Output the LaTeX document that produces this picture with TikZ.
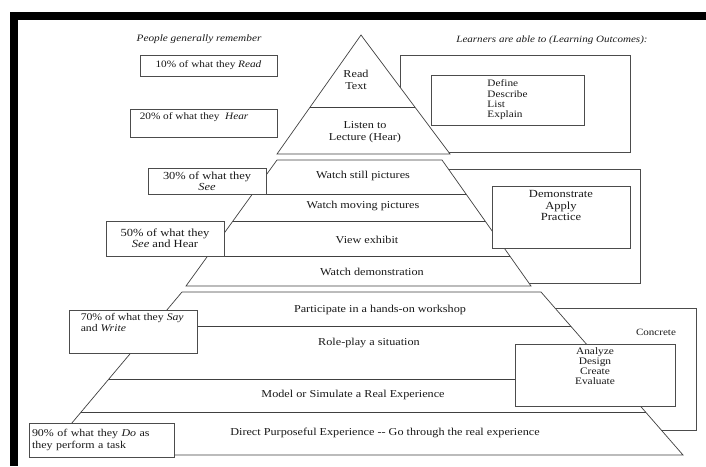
\documentclass[tikz,border=0pt]{standalone}
\usepackage{fontspec}
\setmainfont{Liberation Serif}[FakeStretch=1.15]
\usepackage{tikz}
\usetikzlibrary{positioning,calc}

\begin{document}
\begin{tikzpicture}[
    x=1pt, y=-1pt,
    every node/.style={font=\fontsize{10.6}{12}\selectfont, text=black!90},
    head/.style={font=\fontsize{9.8}{11}\selectfont\itshape},
    listtxt/.style={font=\fontsize{9.8}{10.3}\selectfont, align=left, inner sep=0pt},
    pbox/.style={draw=black!70, fill=white, line width=0.9pt, inner sep=2pt,
                 font=\fontsize{9.8}{11}\selectfont},
    outbox/.style={draw=black!70, line width=0.9pt},
    tier/.style={draw=black!75, fill=white, line width=0.7pt},
    divline/.style={draw=black!75, line width=0.7pt}
]
\useasboundingbox (0,0) rectangle (706,466);

% ── Frame ─────────────────────────────────────────────────────────────────
\fill[black] (10,12) rectangle (706,20);
\fill[black] (10,12) rectangle (18,466);

% ── Headings ──────────────────────────────────────────────────────────────
\node[head] (remember) at (199,39) {People generally remember};
\node[head, font=\fontsize{9.6}{11}\selectfont\itshape] (outcomes) at (552,40)
      {Learners are able to (Learning Outcomes):};

% ── Outer outcome frames (behind the pyramid) ────────────────────────────
\draw[outbox] (400,55) rectangle (630,152);
\draw[outbox] (440,169) rectangle (640,283);
\draw[outbox] (540,308) rectangle (696,430);
\node[font=\fontsize{9.6}{11}\selectfont] (concrete) at (656,332) {Concrete};

% ── Pyramid, top tier ─────────────────────────────────────────────────────
\coordinate (t1a) at (361,35);
\coordinate (t1l) at (277,154);
\coordinate (t1r) at (450,154);
\draw[tier] (t1a) -- (t1r) -- (t1l) -- cycle;
\draw[divline] ($(t1a)!0.605!(t1l)$) -- ($(t1a)!0.605!(t1r)$);
\node[align=center] (read) at (356,80) {Read\\Text};
\node[align=center] (lecture) at (365,132) {Listen to\\Lecture (Hear)};

% ── Pyramid, middle tier ──────────────────────────────────────────────────
\coordinate (t2tl) at (277,160);
\coordinate (t2tr) at (442,160);
\coordinate (t2bl) at (186,286);
\coordinate (t2br) at (531,286);
\draw[tier] (t2tl) -- (t2tr) -- (t2br) -- (t2bl) -- cycle;
\draw[divline] ($(t2tl)!0.270!(t2bl)$) -- ($(t2tr)!0.270!(t2br)$);
\draw[divline] ($(t2tl)!0.484!(t2bl)$) -- ($(t2tr)!0.484!(t2br)$);
\draw[divline] ($(t2tl)!0.762!(t2bl)$) -- ($(t2tr)!0.762!(t2br)$);
\node (still) at (363,176) {Watch still pictures};
\node (moving) at (363,206) {Watch moving pictures};
\node (exhibit) at (367,240) {View exhibit};
\node (demo) at (372,272) {Watch demonstration};

% ── Pyramid, bottom tier ──────────────────────────────────────────────────
\coordinate (t3tl) at (182,292);
\coordinate (t3tr) at (541,292);
\coordinate (t3bl) at (45,455);
\coordinate (t3br) at (683,455);
\draw[tier] (t3tl) -- (t3tr) -- (t3br) -- (t3bl) -- cycle;
\draw[divline] ($(t3tl)!0.209!(t3bl)$) -- ($(t3tr)!0.209!(t3br)$);
\draw[divline] ($(t3tl)!0.534!(t3bl)$) -- ($(t3tr)!0.534!(t3br)$);
\draw[divline] ($(t3tl)!0.736!(t3bl)$) -- ($(t3tr)!0.736!(t3br)$);
\node (workshop) at (380,310) {Participate in a hands-on workshop};
\node (roleplay) at (369,343) {Role-play a situation};
\node (simulate) at (353,395) {Model or Simulate a Real Experience};
\node (direct) at (385,433) {Direct Purposeful Experience -{}- Go through the real experience};

% ── Remember boxes (left) ─────────────────────────────────────────────────
\node[pbox, minimum width=137pt, minimum height=21pt] (p10) at (208.5,65.5)
      {10\% of what they \textit{Read}};
\node[pbox, minimum width=147pt, minimum height=28pt] (p20) at (203.5,123) {};
\node[anchor=north west, inner sep=0pt, font=\fontsize{9.8}{11}\selectfont] (p20txt)
      at ([xshift=10pt, yshift=-4pt]p20.north west) {20\% of what they \ \textit{Hear}};
\node[pbox, minimum width=118pt, minimum height=26pt, align=center,
      font=\fontsize{10.8}{11}\selectfont] (p30) at (207,181)
      {30\% of what they\\\textit{See}};
\node[pbox, minimum width=118pt, minimum height=35pt, align=center,
      font=\fontsize{10.9}{11}\selectfont] (p50) at (165,238.5)
      {50\% of what they\\\textit{See} and Hear};
\node[pbox, minimum width=128pt, minimum height=43pt] (p70) at (133,331.5) {};
\node[anchor=north west, inner sep=0pt, align=left, font=\fontsize{10.2}{11}\selectfont]
      (p70txt) at ([xshift=12pt, yshift=-4pt]p70.north west)
      {70\% of what they \textit{Say}\\and \textit{Write}};
\node[pbox, minimum width=145pt, minimum height=34pt, text width=139pt, align=left,
      font=\fontsize{10.4}{12.5}\selectfont] (p90) at (101.5,440)
      {90\% of what they \textit{Do} as\\they perform a task};

% ── Outcome boxes (right) ─────────────────────────────────────────────────
\node[pbox, minimum width=153pt, minimum height=50pt] (o1) at (507.5,100) {};
\node[listtxt] (o1txt) at (o1.center) {Define\\Describe\\List\\Explain};
\node[pbox, minimum width=138pt, minimum height=62pt] (o2) at (561,217) {};
\node[anchor=north, align=center, inner sep=0pt, font=\fontsize{10.9}{11.5}\selectfont]
      (o2txt) at ([yshift=-5pt]o2.north) {Demonstrate\\Apply\\Practice};
\node[pbox, minimum width=160pt, minimum height=62pt] (o3) at (595,375) {};
\node[listtxt, anchor=north, align=center, font=\fontsize{9.9}{10}\selectfont] (o3txt)
      at ([yshift=-4pt]o3.north) {Analyze\\Design\\Create\\Evaluate};

\end{tikzpicture}
\end{document}
